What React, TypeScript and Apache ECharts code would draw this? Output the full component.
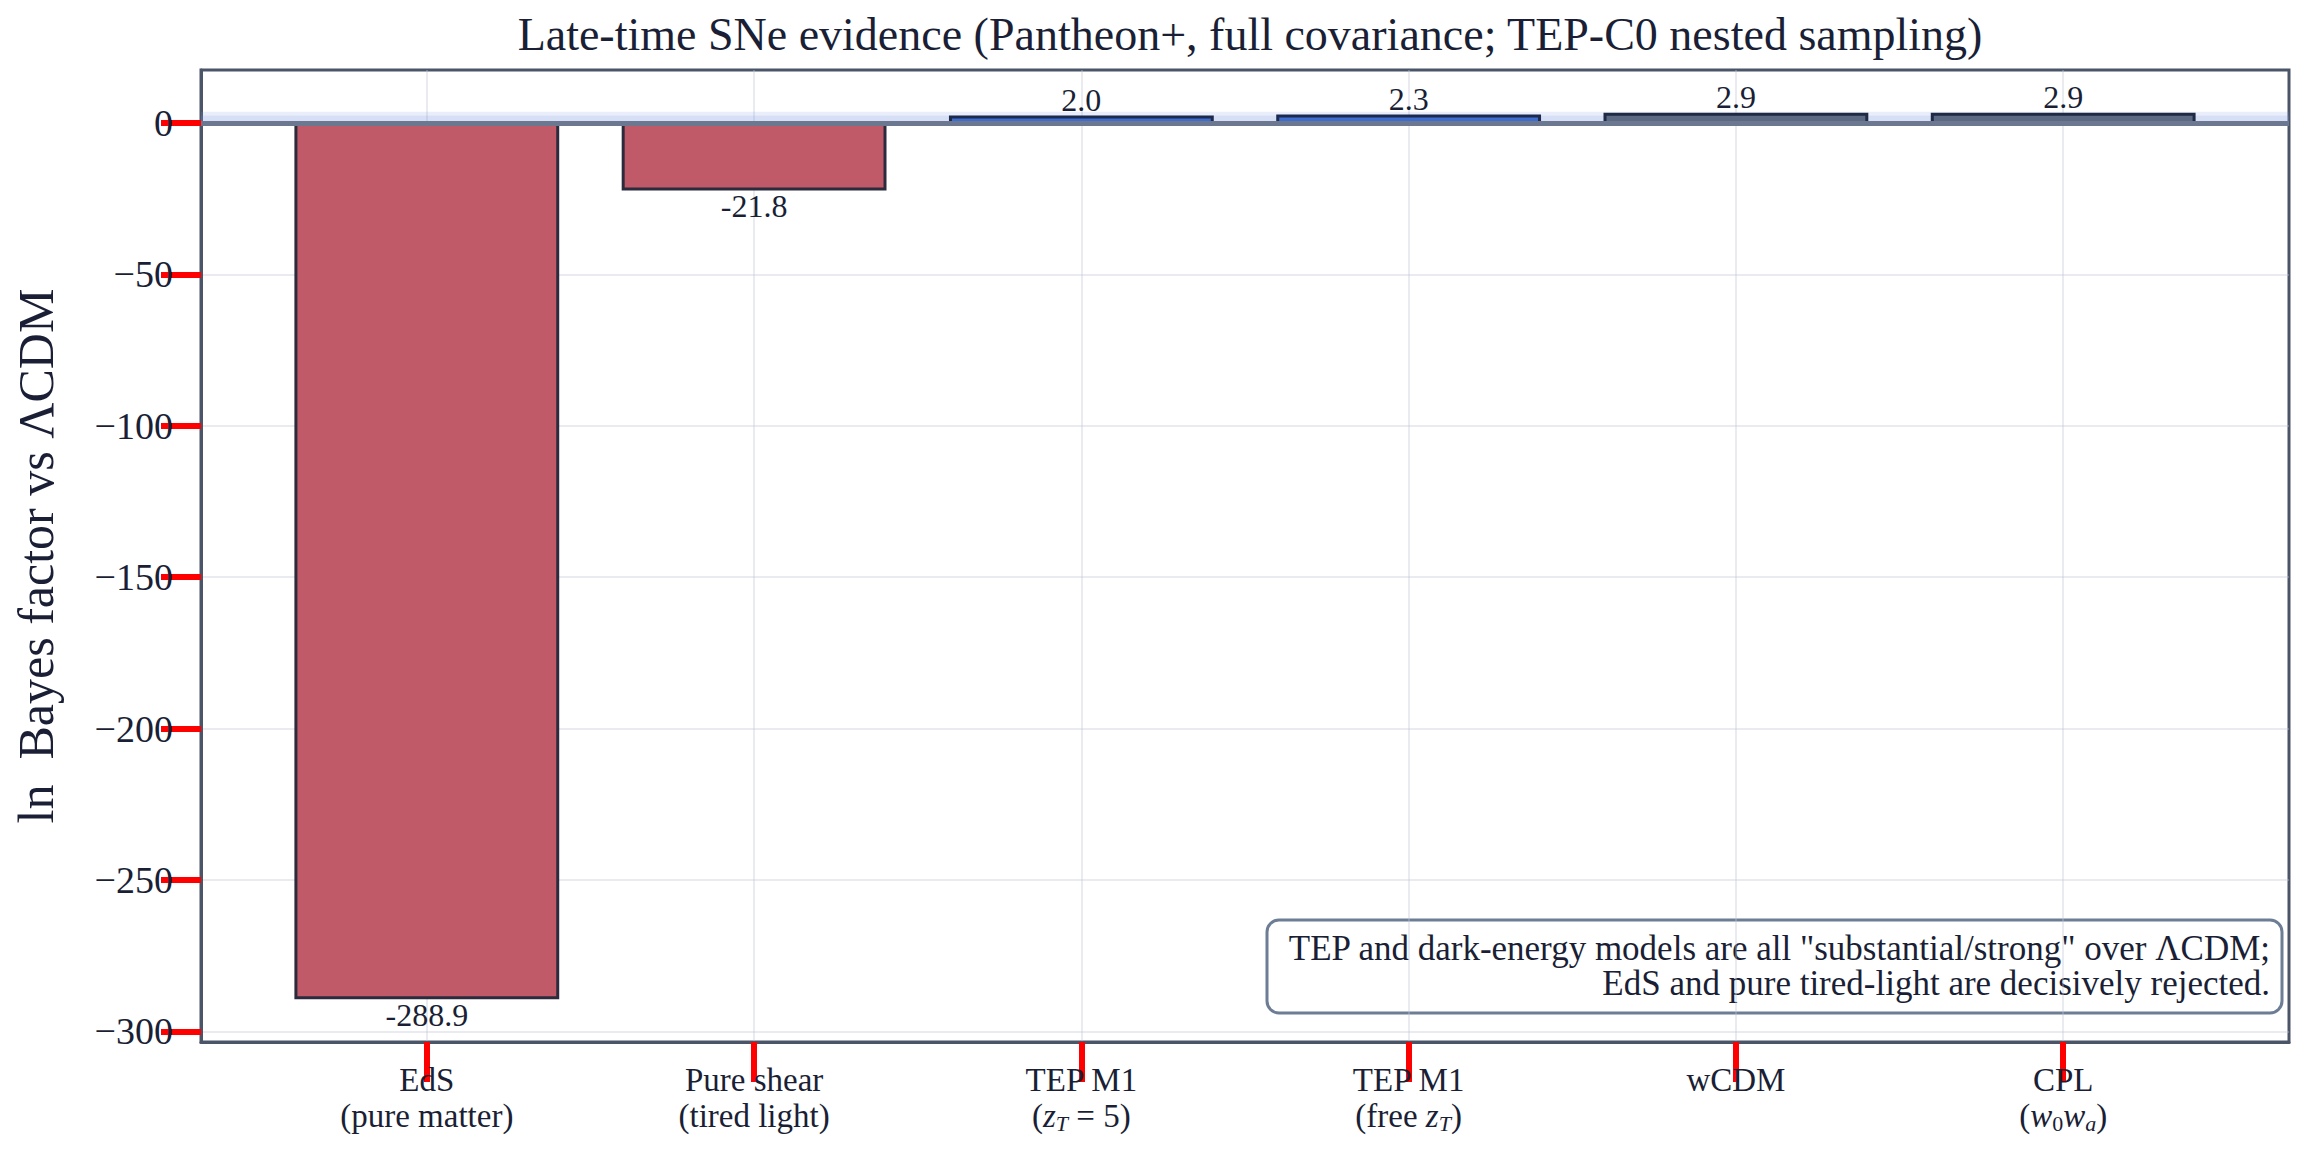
import React, { useEffect, useRef } from "react";
import * as echarts from "echarts";

// Model names (rich-text tags for the math subscripts)
const modelLabels = [
  "EdS\n(pure matter)",
  "Pure shear\n(tired light)",
  "TEP M1\n({it|z}{sub|T} = 5)",
  "TEP M1\n(free {it|z}{sub|T})",
  "wCDM",
  "CPL\n({it|w}{sub0|0}{it|w}{sub|a})",
];
// ln Bayes factor of each model relative to ΛCDM
const lnBayes = [-288.9, -21.8, 2.0, 2.3, 2.9, 2.9];
const barFills = ["#c05a69", "#c05a69", "#3d6dd1", "#3d6dd1", "#5b6983", "#5b6983"];
const barEdges = ["#2b2b3d", "#2b2b3d", "#1d2a4e", "#1d2a4e", "#1f2a44", "#1f2a44"];
const xTicks = [0, 1, 2, 3, 4, 5];
const yTicks = [-300, -250, -200, -150, -100, -50, 0];

const SERIF = "'Liberation Serif', 'DejaVu Serif', serif";
const INK = "#1a1f36";
const FRAME = "#4a5568";
const BAR_HALF = 0.4;

export default function App() {
  const ref = useRef<HTMLDivElement>(null);

  useEffect(() => {
    document.body.style.margin = "0";
    document.body.style.overflow = "hidden";
    const chart = echarts.init(ref.current!, null, { renderer: "svg" });

    const option: any = {
      animation: false,
      backgroundColor: "#ffffff",
      textStyle: { fontFamily: SERIF, color: INK },
      title: {
        text: "Late-time SNe evidence (Pantheon+, full covariance; TEP-C0 nested sampling)",
        left: 1245,
        top: 6,
        textAlign: "center",
        textStyle: { fontFamily: SERIF, fontSize: 46, fontWeight: "normal", color: INK },
      },
      grid: {
        left: 201,
        width: 2088,
        top: 70,
        height: 972,
        show: true,
        borderColor: FRAME,
        borderWidth: 3,
      },
      xAxis: {
        type: "value",
        min: -0.69,
        max: 5.69,
        axisLine: { show: true, onZero: false, lineStyle: { color: FRAME, width: 3 } },
        axisTick: { show: true, inside: false, customValues: xTicks, length: 40, lineStyle: { color: "red", width: 6 } },
        splitLine: { show: true, lineStyle: { color: "rgba(190,198,214,0.45)", width: 1.5 } },
        axisLabel: {
          customValues: xTicks,
          margin: 20,
          fontFamily: SERIF,
          fontSize: 33,
          lineHeight: 36,
          color: INK,
          formatter: (v: number) => modelLabels[Math.round(v)] ?? "",
          rich: {
            it: { fontFamily: SERIF, fontSize: 33, fontStyle: "italic", color: INK, lineHeight: 36 },
            sub: { fontFamily: SERIF, fontSize: 22, fontStyle: "italic", color: INK, lineHeight: 36, verticalAlign: "bottom" },
            sub0: { fontFamily: SERIF, fontSize: 22, color: INK, lineHeight: 36, verticalAlign: "bottom" },
          },
        },
      },
      yAxis: {
        type: "value",
        min: -303.5,
        max: 17.5,
        name: "ln\u2002Bayes factor vs \u039BCDM",
        nameLocation: "middle",
        nameGap: 140,
        nameTextStyle: { fontFamily: SERIF, fontSize: 50, color: INK },
        axisLine: { show: true, onZero: false, lineStyle: { color: FRAME, width: 3 } },
        axisTick: { show: true, inside: false, customValues: yTicks, length: 40, lineStyle: { color: "red", width: 6 } },
        splitLine: { show: true, lineStyle: { color: "rgba(190,198,214,0.45)", width: 1.5 } },
        axisLabel: {
          customValues: yTicks,
          margin: 28,
          fontFamily: SERIF,
          fontSize: 38,
          color: INK,
          formatter: (v: number) => (v < 0 ? "\u2212" + Math.abs(v) : String(v)),
        },
      },
      series: [
        {
          type: "custom",
          encode: { x: 0, y: 1 },
          data: lnBayes.map((v, i) => [i, v]),
          renderItem: (params: any, api: any) => {
            const idx = params.dataIndex;
            const x = api.value(0);
            const v = api.value(1);
            const a = api.coord([x - BAR_HALF, v]);
            const b = api.coord([x + BAR_HALF, 0]);
            const top = Math.min(a[1], b[1]);
            const h = Math.abs(b[1] - a[1]);
            return {
              type: "group",
              children: [
                {
                  type: "rect",
                  shape: { x: a[0], y: top, width: b[0] - a[0], height: h },
                  style: { fill: barFills[idx], stroke: barEdges[idx], lineWidth: 3 },
                },
                {
                  type: "text",
                  x: (a[0] + b[0]) / 2,
                  y: v >= 0 ? top - 1 : top + h + 1,
                  style: {
                    text: v.toFixed(1),
                    fill: INK,
                    font: `32px ${SERIF}`,
                    align: "center",
                    verticalAlign: v >= 0 ? "bottom" : "top",
                  },
                },
              ],
            };
          },
          markArea: {
            silent: true,
            data: [
              [{ yAxis: 0, itemStyle: { color: "rgba(120,150,225,0.3)" } }, { yAxis: 2.5 }],
              [{ yAxis: 2.5, itemStyle: { color: "rgba(120,150,225,0.16)" } }, { yAxis: 3.7 }],
            ],
          },
          markLine: {
            silent: true,
            symbol: "none",
            label: { show: false },
            lineStyle: { color: "#6b7890", width: 5, type: "solid" },
            data: [{ yAxis: 0 }],
          },
        },
      ],
      graphic: [
        {
          type: "group",
          children: [
            {
              type: "rect",
              shape: { x: 1267, y: 920, width: 1015, height: 93, r: 12 },
              style: { fill: "#ffffff", stroke: "#6e7d96", lineWidth: 3 },
            },
            {
              type: "text",
              x: 2270,
              y: 966,
              style: {
                text:
                  'TEP and dark-energy models are all "substantial/strong" over \u039BCDM;\nEdS and pure tired-light are decisively rejected.',
                font: `35px ${SERIF}`,
                fill: INK,
                align: "right",
                verticalAlign: "middle",
                lineHeight: 35,
              },
            },
          ],
        },
      ],
    };

    chart.setOption(option);
    return () => chart.dispose();
  }, []);

  return <div ref={ref} style={{ width: 2308, height: 1157 }} />;
}
